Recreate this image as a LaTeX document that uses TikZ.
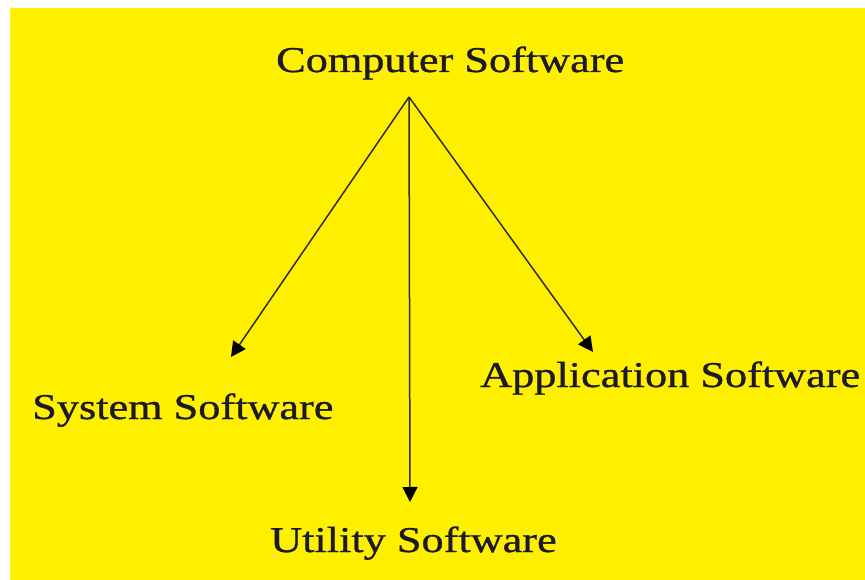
\documentclass[tikz,border=0pt]{standalone}
\usepackage{fontspec}
\usetikzlibrary{arrows.meta}
\newfontfamily\labelfont[FakeStretch=1.22,FakeBold=0.9]{Liberation Serif}
\definecolor{bgyellow}{RGB}{255,240,0}
\definecolor{inkdark}{RGB}{28,26,40}
\definecolor{linedark}{RGB}{50,44,36}
\tikzset{
  label text/.style={anchor=base west, inner sep=0pt, text=inkdark,
    font=\labelfont\fontsize{36.3}{40}\selectfont},
  branch/.style={draw=linedark, line width=1.5pt,
    -{Triangle[length=15pt,width=15pt,color=black]}}
}
\begin{document}
\begin{tikzpicture}[x=1pt,y=-1pt]
  % page and yellow panel
  \fill[white] (0,0) rectangle (865,580);
  \fill[bgyellow] (10,8) rectangle (865,580);
  \useasboundingbox (0,0) rectangle (865,580);

  % labels
  \node[label text] (comp) at (276,72) {Computer Software};
  \node[label text] (sys)  at (32,419) {System Software};
  \node[label text] (app)  at (480,387) {Application Software};
  \node[label text] (util) at (270,552) {Utility Software};

  % branching point and arrow ends
  \coordinate (hub)     at (409,97);
  \coordinate (sysend)  at (231,357);
  \coordinate (append)  at (593,352);
  \coordinate (utilend) at (410,502);

  \draw[branch] (hub) -- (sysend);
  \draw[branch] (hub) -- (utilend);
  \draw[branch] (hub) -- (append);
\end{tikzpicture}
\end{document}
